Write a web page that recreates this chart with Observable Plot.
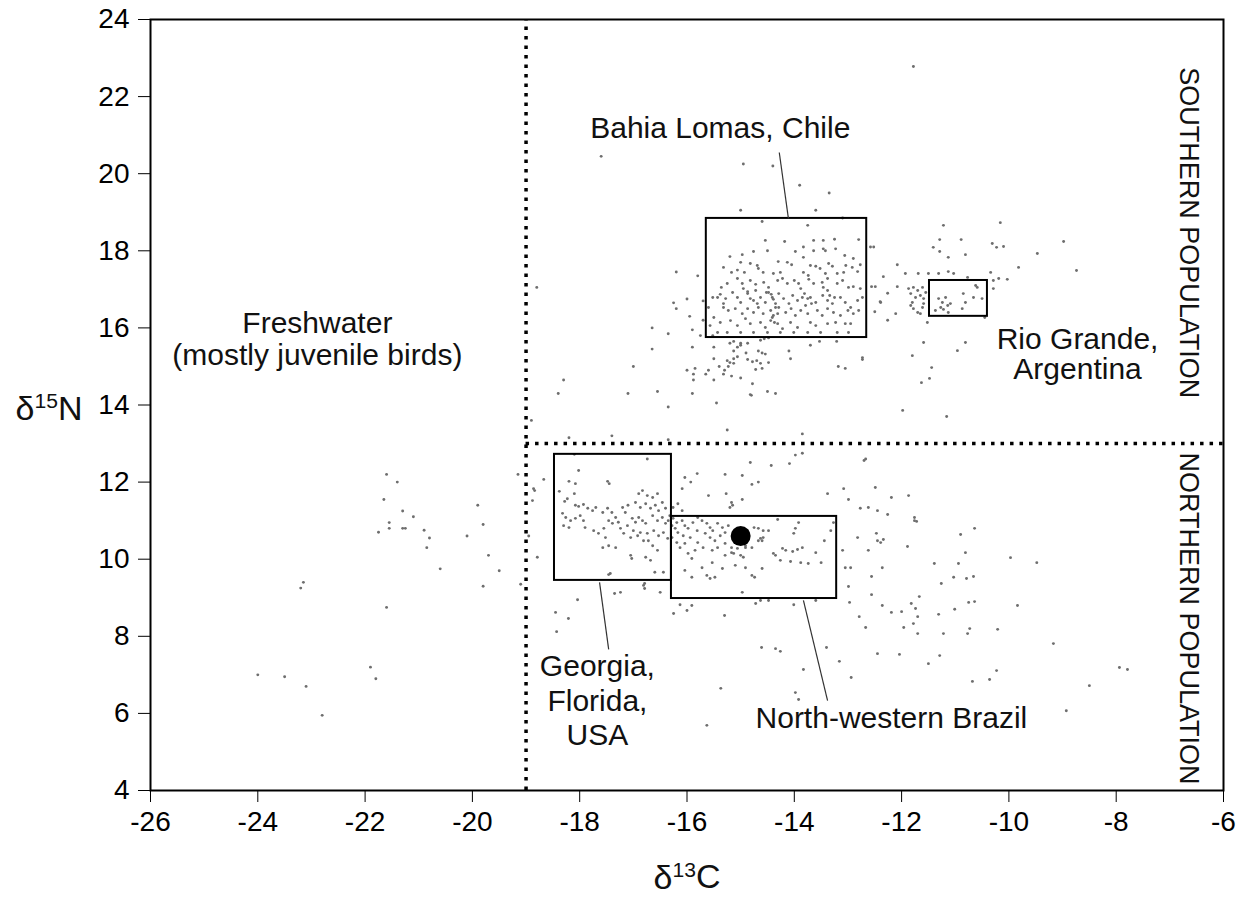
<!DOCTYPE html>
<html><head><meta charset="utf-8">
<script src="https://cdn.jsdelivr.net/npm/d3@7"></script>
<script src="https://cdn.jsdelivr.net/npm/@observablehq/plot@0.6"></script>
<style>body{margin:0;background:#fff} svg{font-family:"Liberation Sans",Arial,Helvetica,sans-serif}</style>
</head><body><div id="chart"></div><script>
// tick values
const xTicks = [-26,-24,-22,-20,-18,-16,-14,-12,-10,-8,-6];
const yTicks = [4,6,8,10,12,14,16,18,20,22,24];

// [d13C, d15N] samples
const freshwater = [[-21.6,12.2],[-21.4,12.0],[-21.65,11.55],[-21.3,11.25],[-21.1,11.1],[-21.55,10.95],[-21.55,10.8],[-21.3,10.8],[-21.25,10.8],[-21.75,10.7],[-20.9,10.75],[-20.8,10.55],[-20.85,10.3],[-20.6,9.75],[-19.9,11.4],[-19.8,10.9],[-20.1,10.6],[-19.7,10.1],[-19.5,9.7],[-19.8,9.3],[-19.15,12.2],[-19.1,9.35],[-23.15,9.4],[-23.2,9.25],[-21.6,8.75],[-24.0,7.0],[-23.5,6.95],[-23.1,6.7],[-22.8,5.95],[-21.9,7.2],[-21.8,6.9]];

const southernScatter = [[-17.6,20.45],[-14.95,20.25],[-14.4,20.2],[-13.9,19.7],[-13.35,19.5],[-15.0,19.05],[-13.6,19.05],[-13.1,18.85],[-16.2,17.45],[-15.8,17.35],[-18.8,17.05],[-16.0,16.75],[-16.25,16.65],[-16.2,16.5],[-15.95,16.3],[-15.9,15.95],[-15.75,15.8],[-16.65,16.0],[-16.35,15.85],[-16.65,15.45],[-17.0,15.0],[-18.3,14.65],[-18.4,14.3],[-17.1,14.3],[-16.55,14.35],[-16.35,13.95],[-15.9,14.3],[-15.45,14.05],[-14.8,14.25],[-14.5,14.35],[-14.35,14.3],[-18.9,13.6],[-18.2,13.15],[-17.4,13.2],[-16.35,13.1],[-15.25,13.35],[-13.85,13.25],[-15.7,16.7],[-15.7,16.2],
[-15.9,15.5],[-15.5,15.5],[-16.0,14.9],[-15.85,14.95],[-15.88,14.8],[-15.88,14.65],[-15.65,14.8],[-15.6,14.9],[-15.5,14.65],[-15.5,15.2],[-15.4,15.0],[-15.32,14.8],[-15.3,14.9],[-15.17,14.75],[-15.0,14.7],[-15.25,15.15],[-15.2,15.1],[-15.13,15.08],[-15.23,15.0],[-15.13,15.2],[-15.06,15.25],[-15.13,15.4],[-15.06,15.5],[-15.0,15.55],[-14.9,15.35],[-15.2,15.6],[-15.13,15.65],[-14.87,15.18],[-14.78,15.12],[-14.7,15.15],[-14.63,15.08],[-14.48,15.1],[-14.67,15.4],[-14.6,15.35],[-14.54,15.32],[-14.63,15.68],[-14.56,15.72],[-14.48,15.74],[-14.72,14.92],[-14.6,14.95],[-14.78,14.55],[-14.82,14.27],[-15.0,15.6],[-14.87,15.6],[-14.1,15.4],[-14.07,15.2],[-13.7,15.55],[-13.53,15.65],[-13.21,15.65],[-13.18,15.0],[-13.05,14.95],[-12.73,15.18],
[-12.58,18.1],[-12.52,18.1],[-12.34,17.33],[-12.08,17.64],[-12.56,17.07],[-12.49,17.07],[-12.26,16.9],[-12.4,16.68],[-12.08,17.07],[-12.5,16.42],[-12.26,16.2],[-12.11,16.37],[-12.39,16.66],[-12.73,15.23],
[-11.22,18.66],[-10.16,18.73],[-11.29,18.29],[-10.89,18.29],[-11.41,18.09],[-11.29,17.98],[-11.13,17.83],[-10.81,17.9],[-10.31,18.19],[-10.23,18.09],[-10.1,18.11],[-9.47,17.93],[-8.98,18.24],[-9.82,17.57],[-8.74,17.49],[-11.93,17.41],[-11.69,17.41],[-11.5,17.41],[-11.31,17.41],[-11.13,17.46],[-11.03,17.41],[-11.87,17.02],[-11.78,17.05],[-11.7,16.97],[-11.61,17.05],[-11.83,16.89],[-11.74,16.79],[-11.65,16.84],[-11.55,16.92],[-11.59,16.76],[-11.8,16.66],[-11.83,16.58],[-11.78,16.5],[-11.7,16.4],[-11.65,16.37],[-11.61,16.53],[-11.59,16.63],[-11.52,16.14],
[-10.29,17.23],[-10.29,17.02],[-10.34,17.44],[-10.19,17.28],[-10.03,17.26],[-10.77,17.31],[-10.45,16.27],[-11.59,15.62],[-10.81,15.62],[-10.96,15.41],[-11.8,15.28],[-11.44,14.97],[-11.63,14.58],[-11.48,14.69],[-11.98,13.86],[-11.16,13.7],[-11.78,22.78]];

const bahiaLomas = [[-14.6,18.76],[-13.75,18.66],[-14.54,18.27],[-14.18,18.24],[-13.64,18.27],[-13.46,18.27],[-13.25,18.3],[-12.8,18.29],[-13.83,18.1],[-13.64,18.0],[-13.46,18.05],[-13.42,18.0],[-13.23,18.05],[-15.2,17.85],[-14.97,17.9],[-14.76,17.98],[-14.5,18.0],[-13.98,17.98],[-13.06,17.88],[-12.9,17.8],[-15.0,17.7],[-14.82,17.67],[-14.69,17.62],[-14.3,17.72],[-14.13,17.7],[-14.05,17.64],[-13.83,17.83],[-13.7,17.62],[-13.6,17.6],[-13.36,17.67],[-13.29,17.6],[-13.04,17.62],[-12.92,17.57],[-12.77,17.64],[-15.32,17.57],[-15.17,17.44],[-15.06,17.5],[-14.93,17.44],[-14.67,17.54],[-14.58,17.44],[-14.39,17.41],[-14.26,17.44],[-13.83,17.44],[-13.74,17.36],[-13.52,17.54],[-13.42,17.41],[-13.2,17.41],[-13.08,17.44],[-12.82,17.46],[-15.36,17.05],[-15.25,17.15],[-15.06,17.28],[-14.97,17.15],[-14.82,17.23],[-14.72,17.13],[-14.57,17.18],[-14.48,17.05],[-14.31,17.23],[-14.22,17.28],[-14.13,17.15],[-14.0,17.23],[-13.92,17.15],[-13.73,17.26],[-13.64,17.15],[-13.48,17.18],[-13.38,17.28],[-13.2,17.15],[-13.1,17.23],[-12.99,17.05],[-12.9,17.07],[-12.77,17.02],
[-15.52,16.79],[-15.38,16.87],[-15.28,16.76],[-15.15,16.92],[-15.06,16.79],[-15.0,16.66],[-14.87,16.89],[-14.82,16.76],[-14.72,16.97],[-14.63,16.79],[-14.54,16.66],[-14.48,16.92],[-14.41,16.79],[-14.35,16.63],[-14.29,16.89],[-14.2,16.76],[-14.1,16.63],[-14.03,16.84],[-13.94,16.71],[-13.85,16.79],[-13.79,16.58],[-13.7,16.79],[-13.6,16.66],[-13.47,16.84],[-13.38,16.71],[-13.29,16.63],[-13.14,16.79],[-13.05,16.66],[-12.95,16.53],[-12.82,16.71],[-12.73,16.79],[-15.32,16.53],[-15.23,16.45],[-15.1,16.5],[-14.97,16.37],[-14.87,16.5],[-14.76,16.4],[-14.67,16.53],[-14.58,16.37],[-14.44,16.45],[-14.39,16.32],[-14.29,16.53],[-14.16,16.4],[-14.06,16.5],[-13.98,16.32],[-13.88,16.45],[-13.75,16.37],[-13.57,16.45],[-13.48,16.32],[-13.38,16.5],[-13.27,16.4],[-13.14,16.32],[-13.0,16.45],[-12.9,16.37],[-12.8,16.45],[-15.5,16.27],[-15.38,16.14],[-15.19,16.19],[-15.06,16.06],[-14.91,16.24],[-14.82,16.11],[-14.63,16.14],[-14.54,16.01],[-14.44,16.19],[-14.31,16.11],[-14.22,15.98],[-14.07,16.14],[-13.94,16.01],[-13.7,16.14],[-13.6,16.06],[-13.38,16.11],[-13.23,16.14],[-13.05,16.11],[-12.95,16.11],[-15.43,15.88],[-15.25,15.88],[-15.0,15.88],[-14.76,15.88],[-14.5,15.88],[-14.26,15.88],[-14.01,15.88],[-13.75,15.88],[-13.51,15.88],[-13.2,15.88],[-12.99,15.88],[-15.6,16.53],[-15.57,16.06],[-15.52,15.8],
[-14.95,17.02],[-14.87,16.94],[-14.76,16.71],[-14.69,16.63],[-14.52,16.92],[-14.43,16.87],[-14.39,16.74],[-14.35,16.53],[-14.31,16.37],[-14.41,16.27],[-14.37,16.14],[-13.88,17.02],[-13.81,16.89],[-13.75,16.76],[-13.68,16.63],[-13.46,17.05],[-13.38,16.97],[-13.34,16.84],[-13.25,16.79],[-15.43,16.79],[-15.32,16.63]];

const rioGrande = [[-11.31,16.76],[-11.24,16.66],[-11.18,16.79],[-11.27,16.53],[-11.14,16.58],[-11.37,16.45],[-11.22,16.48],[-11.13,16.4],[-11.09,16.63],[-10.85,16.89],[-10.81,16.66],[-10.87,16.5],[-10.66,16.79],[-10.62,17.1],[-10.59,17.05],[-10.5,16.76]];

const georgia = [[-18.1,12.72],[-18.02,12.3],[-18.2,12.02],[-18.08,11.96],[-17.48,12.02],[-17.45,11.96],[-18.38,11.76],[-18.1,11.7],[-18.28,11.5],[-18.23,11.57],[-18.08,11.4],[-18.02,11.37],[-17.93,11.42],[-17.85,11.32],[-17.76,11.26],[-17.7,11.34],[-18.32,11.19],[-18.26,11.08],[-18.17,11.0],[-18.08,11.06],[-17.99,11.13],[-17.93,11.0],[-17.9,10.82],[-18.3,10.87],[-18.2,10.82],[-17.74,10.74],[-17.65,10.67],[-17.55,10.8],[-17.52,10.56],[-17.46,11.0],[-17.39,10.93],[-17.33,11.08],[-17.28,10.96],[-17.57,11.21],[-17.48,11.32],[-17.4,11.21],[-17.2,11.34],[-17.15,11.21],[-17.1,11.4],[-17.24,10.8],[-17.18,10.67],[-17.11,10.87],[-17.05,10.56],[-17.02,11.06],[-16.96,10.96],[-16.9,11.08],[-16.83,11.0],[-16.77,10.93],[-17.0,10.74],[-16.92,10.61],[-16.87,10.69],[-16.81,10.48],[-16.74,10.67],[-16.9,11.7],[-16.83,11.78],[-16.74,11.65],[-16.64,11.6],[-16.55,11.7],[-16.96,11.47],[-16.87,11.34],[-16.77,11.44],[-16.68,11.32],[-16.59,11.4],[-16.53,11.26],[-16.46,11.47],[-16.4,11.32],[-16.64,11.13],[-16.55,11.0],[-16.46,11.08],[-16.4,10.93],[-16.35,11.0],[-16.62,10.74],[-16.53,10.61],[-16.44,10.69],[-16.36,10.54],[-16.72,10.48],[-16.64,10.35],[-16.55,10.23],[-17.57,10.3],[-17.46,10.35],[-17.33,10.3],[-17.05,10.1],[-17.03,10.02],[-16.77,10.05],[-16.68,9.97],[-16.6,9.66],[-16.44,9.66],[-17.46,9.6],
[-16.32,11.13],[-16.26,11.06],[-16.19,10.95],[-16.28,10.87],[-16.22,10.8],[-16.17,10.69],[-16.09,11.0],[-16.04,10.87],[-15.98,10.8],[-16.07,10.61],[-15.94,10.56],[-15.89,10.95],[-15.81,10.74],[-15.8,11.08],[-16.26,11.34],[-16.17,11.44],[-16.09,11.26],[-16.28,10.56],[-16.19,10.43],[-16.13,10.3],[-16.04,10.41],[-16.09,11.83],[-15.93,12.0],[-15.81,12.22],[-16.04,12.12]];

const brazil = [[-15.72,11.0],[-15.63,10.93],[-15.57,10.82],[-15.52,10.74],[-15.66,10.67],[-15.57,10.56],[-15.48,10.48],[-15.38,10.61],[-15.29,10.69],[-15.34,10.82],[-15.23,10.87],[-15.43,10.93],[-15.8,10.43],[-15.7,10.3],[-15.85,10.23],[-15.98,10.15],[-15.91,10.02],[-15.53,10.23],[-15.43,10.3],[-15.29,10.1],[-15.17,10.17],[-14.79,10.3],[-14.67,10.48],[-14.58,10.56],[-15.72,9.78],[-15.53,9.91],[-15.34,9.76],[-15.1,9.84],[-14.91,9.78],[-15.63,9.58],[-15.57,9.5],[-15.48,9.53],[-15.91,9.53],[-16.04,9.71],[-14.79,9.58],[-14.74,9.53],[-14.97,9.14],[-14.67,10.8],[-14.58,10.74],[-14.48,10.74],[-14.63,10.54],[-14.6,10.48],[-14.31,11.03],[-13.92,10.95],[-13.98,10.8],[-14.01,10.67],[-13.27,10.95],[-13.32,10.74],[-13.44,10.48],[-14.22,10.28],[-14.16,10.23],[-14.03,10.2],[-13.94,10.25],[-13.85,10.3],[-14.39,10.15],[-14.35,10.1],[-14.26,9.97],[-14.07,9.94],[-13.88,9.91],[-13.74,9.89],[-13.6,10.17],[-13.5,9.91],[-14.6,9.76],[-15.13,10.15],[-15.0,10.1],[-14.95,10.05],[-14.91,10.3],[-14.87,10.74],[-14.75,10.82],[-15.29,10.41],[-15.17,10.3],[-15.06,10.28],[-14.91,10.35]];

const northernScatter = [[-16.74,12.6],[-13.85,12.75],[-13.98,12.7],[-12.67,12.6],[-18.86,11.83],[-18.84,11.78],[-18.67,12.07],[-18.88,11.52],[-18.79,10.05],[-18.95,10.6],[-16.5,9.14],[-17.35,9.11],[-16.81,9.32],[-18.04,8.95],[-16.13,8.82],[-15.91,8.8],[-14.72,8.85],[-14.63,8.93],[-14.48,8.93],[-14.01,8.82],[-13.6,8.93],[-15.3,8.54],[-14.61,7.71],[-14.35,7.68],[-14.26,7.61],[-13.83,7.14],[-15.37,6.65],[-13.98,6.54],[-13.92,6.36],[-15.63,5.69],[-13.4,7.71],[-13.16,7.35],[-12.94,6.93],
[-14.82,12.51],[-14.43,12.43],[-15.29,12.2],[-14.97,12.17],[-14.79,11.94],[-14.67,12.0],[-15.6,11.65],[-15.27,11.7],[-15.17,11.47],[-15.15,11.4],[-15.2,11.34],[-14.97,11.55],[-14.09,12.48],[-13.38,11.7],[-13.08,11.83],[-12.99,11.55],[-12.49,11.86],[-12.19,11.6],[-11.87,11.65],[-12.77,11.32],[-12.62,11.34],[-12.45,11.26],[-12.26,11.16],[-11.76,11.0],
[-13.1,10.23],[-12.82,10.56],[-12.62,10.23],[-12.45,10.48],[-12.39,10.43],[-12.34,10.51],[-12.47,10.67],[-11.89,10.33],[-13.05,9.78],[-12.95,9.78],[-12.36,9.78],[-12.99,9.29],[-12.56,9.55],[-12.56,9.08],[-12.97,8.88],[-12.36,8.8],[-12.79,8.51],[-12.67,8.23],[-12.19,8.62],[-12.0,8.64],[-11.82,8.85],[-11.74,8.72],[-11.7,8.51],[-11.78,8.33],[-11.7,8.07],[-11.96,8.23],[-12.45,7.55],[-12.04,7.53],[-11.5,7.29],[-11.67,9.03],
[-11.76,11.08],[-11.72,10.98],[-10.64,10.8],[-10.9,10.64],[-10.81,10.17],[-9.97,10.04],[-9.48,9.91],[-11.39,9.89],[-10.94,9.89],[-11.03,9.53],[-10.79,9.5],[-10.66,9.55],[-11.26,9.37],[-10.75,8.88],[-10.64,8.9],[-9.84,8.8],[-11.31,8.57],[-11.01,8.7],[-11.22,8.07],[-10.73,8.2],[-10.77,8.07],[-10.21,8.18],[-9.17,7.81],[-11.29,7.5],[-10.23,7.11],[-10.68,6.83],[-10.36,6.88],[-8.5,6.72],[-7.94,7.19],[-7.79,7.14],[-8.93,6.07],[-12.7,12.56],
[-18.45,8.62],[-18.21,8.46],[-18.43,8.12],[-17.43,9.63],[-17.24,9.14],[-16.79,9.37],[-16.79,9.24],[-16.25,8.59],[-16.0,8.67]];

// mean value marker
const meanPoint = [[-15.0,10.6]];

// sampling-site boxes (d13C range, d15N range)
const boxes = [
  {site:"Bahia Lomas", c1:-15.64, c2:-12.65, n1:15.75, n2:18.84},
  {site:"Rio Grande", c1:-11.48, c2:-10.4, n1:16.3, n2:17.23},
  {site:"Georgia", c1:-18.47, c2:-16.29, n1:9.45, n2:12.72},
  {site:"Brazil", c1:-16.29, c2:-13.21, n1:8.98, n2:11.11}
];
// leader lines from labels to boxes
const leaders = [
  {c1:-14.28, n1:20.55, c2:-14.11, n2:18.84},
  {c1:-17.63, n1:9.4, c2:-17.46, n2:7.66},
  {c1:-13.83, n1:8.93, c2:-13.38, n2:6.33}
];
const singleLabels = [
  {text:"Bahia Lomas, Chile", c:-15.38, n:21.17},
  {text:"North-western Brazil", c:-12.19, n:5.87}
];
const freshLabel = [{text:"Freshwater\n(mostly juvenile birds)", c:-22.89, n:15.72}];
const rioLabel = [{text:"Rio Grande,\nArgentina", c:-8.72, n:15.3}];
const usaLabel = [{text:"Georgia,\nFlorida,\nUSA", c:-17.67, n:6.35}];
const popLabels = [
  {text:"SOUTHERN POPULATION", c:-6.65, n:18.47},
  {text:"NORTHERN POPULATION", c:-6.65, n:8.46}
];
const freshwaterLimit = -19;
const populationLimit = 13;

const allPoints = [...freshwater, ...southernScatter, ...bahiaLomas, ...rioGrande, ...georgia, ...brazil, ...northernScatter];
const fmt = d => String(d);
const FONT = '"Liberation Sans", Arial, Helvetica, sans-serif';
const txt = {x: "c", y: "n", text: "text", fontSize: 30, fill: "#111", textAnchor: "middle"};

const chart = Plot.plot({
  width: 1246, height: 917,
  marginLeft: 150, marginRight: 23, marginTop: 19, marginBottom: 127,
  style: {fontFamily: FONT, background: "#fff", color: "#000"},
  x: {domain: [-26, -6]},
  y: {domain: [4, 24]},
  marks: [
    Plot.dot(allPoints, {x: d => d[0], y: d => d[1], r: 1.45, fill: "#6e6e6e", stroke: "none"}),
    Plot.rect(boxes, {x1: "c1", x2: "c2", y1: "n1", y2: "n2", fill: "none", stroke: "#000", strokeWidth: 2}),
    Plot.link(leaders, {x1: "c1", y1: "n1", x2: "c2", y2: "n2", stroke: "#333", strokeWidth: 1.2}),
    Plot.dot(meanPoint, {x: d => d[0], y: d => d[1], r: 10, fill: "#000"}),
    Plot.ruleX([freshwaterLimit], {y1: 4, y2: 24, stroke: "#000", strokeWidth: 3.5, strokeDasharray: "3.5,6"}),
    Plot.ruleY([populationLimit], {x1: freshwaterLimit, x2: -6, stroke: "#000", strokeWidth: 3.5, strokeDasharray: "3.5,6"}),
    Plot.text(singleLabels, txt),
    Plot.text(freshLabel, {...txt, lineHeight: 1.07}),
    Plot.text(rioLabel, {...txt, lineHeight: 1.0}),
    Plot.text(usaLabel, {...txt, lineHeight: 1.15}),
    Plot.text(popLabels, {x: "c", y: "n", text: "text", fontSize: 27, rotate: 90, fill: "#111"}),
    Plot.axisX({ticks: xTicks, tickFormat: fmt, tickSize: 12, tickPadding: 9, fontSize: 28, label: null, stroke: "#000"}),
    Plot.axisY({ticks: yTicks, tickFormat: fmt, tickSize: 12, tickPadding: 9, fontSize: 28, label: null, stroke: "#000"}),
    Plot.text(["δ15N"], {frameAnchor: "left", dx: -68, dy: 4, textAnchor: "end", fontSize: 34, fill: "#111"}),
    Plot.text(["δ13C"], {frameAnchor: "bottom", dy: 98, textAnchor: "middle", fontSize: 34, fill: "#111"}),
    Plot.frame({stroke: "#000", strokeWidth: 2})
  ]
});
document.getElementById("chart").appendChild(chart);

// render isotope superscripts
d3.select(chart).selectAll("text").each(function() {
  const t = this.textContent;
  const m = /^δ(\d+)([NC])$/.exec(t);
  if (!m) return;
  const sel = d3.select(this);
  sel.text(null);
  sel.append("tspan").text("δ");
  sel.append("tspan").attr("dy", "-0.55em").attr("font-size", "0.62em").text(m[1]);
  sel.append("tspan").attr("dy", "0.34em").text(m[2]);
});
</script></body></html>
